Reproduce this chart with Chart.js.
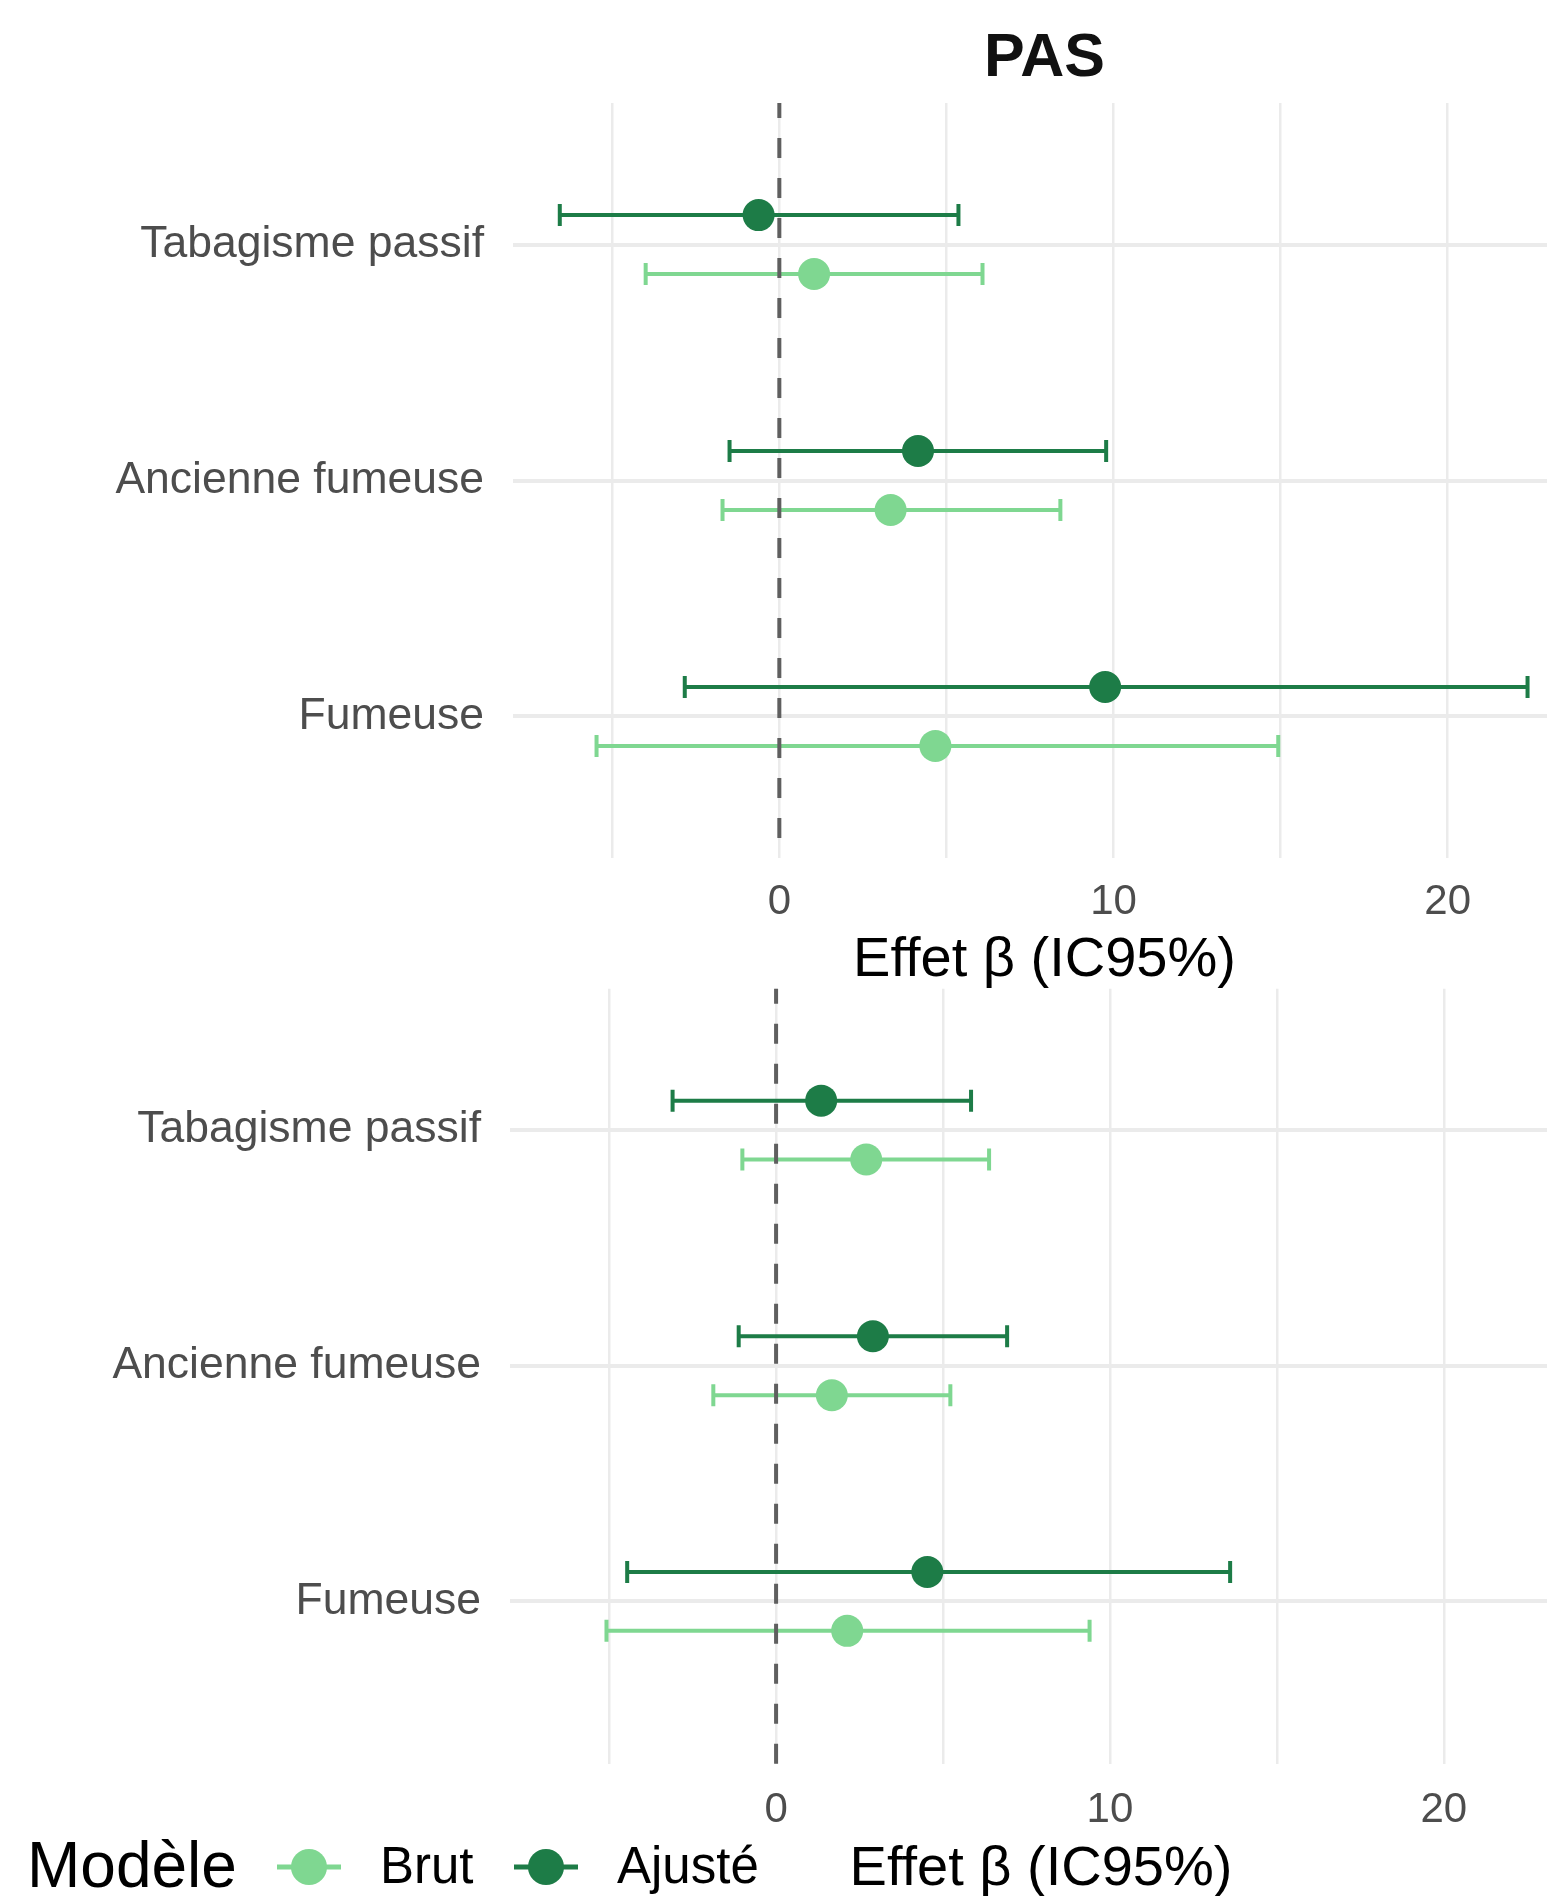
<!DOCTYPE html>
<html>
<head>
<meta charset="utf-8">
<script src="https://cdn.jsdelivr.net/npm/chart.js@4"></script>
<style>
  html, body { margin: 0; padding: 0; background: #fff; }
  body { width: 1547px; height: 1896px; overflow: hidden; position: relative; }
  canvas { position: absolute; left: 0; }
  #pasTop { top: 0; width: 1576px; height: 1000px; }
  #pasBottom { top: 962px; width: 1572px; height: 947px; }
</style>
</head>
<body>
<canvas id="pasTop" width="1576" height="1000"></canvas>
<canvas id="pasBottom" width="1572" height="947"></canvas>
<script>
// categories, from bottom (y=1) to top (y=3)
const categories = ['Fumeuse', 'Ancienne fumeuse', 'Tabagisme passif'];
const xTicks = [-5, 0, 5, 10, 15, 20];
const xLabels = [0, 10, 20];

// panneau du haut
const brutTop = [4.67, 3.33, 1.04];
const brutTopLow = [-5.47, -1.70, -4.00];
const brutTopHigh = [14.93, 8.41, 6.08];
const ajusteTop = [9.75, 4.15, -0.62];
const ajusteTopLow = [-2.83, -1.49, -6.57];
const ajusteTopHigh = [22.39, 9.78, 5.36];

// panneau du bas
const brutBot = [2.13, 1.67, 2.70];
const brutBotLow = [-5.08, -1.88, -1.01];
const brutBotHigh = [9.39, 5.22, 6.38];
const ajusteBot = [4.53, 2.90, 1.35];
const ajusteBotLow = [-4.46, -1.12, -3.10];
const ajusteBotHigh = [13.60, 6.92, 5.84];

const colBrut = '#7fd791';
const colAjuste = '#1d7c47';
const FONT = "'Liberation Sans', Arial, Helvetica, sans-serif";
const DODGE = 0.125;

// barres d'erreur + ligne pointillée à 0
const forestPlugin = {
  id: 'forest',
  beforeDatasetsDraw(chart) {
    const ctx = chart.ctx;
    const xs = chart.scales.x, ys = chart.scales.y;
    ctx.save();
    chart.data.datasets.forEach(ds => {
      ctx.strokeStyle = ds.backgroundColor;
      ctx.lineWidth = 4;
      ds.data.forEach((p, i) => {
        const y = ys.getPixelForValue(p.y);
        const x1 = xs.getPixelForValue(ds.errLow[i]);
        const x2 = xs.getPixelForValue(ds.errHigh[i]);
        ctx.beginPath();
        ctx.moveTo(x1, y); ctx.lineTo(x2, y);
        ctx.moveTo(x1, y - 11); ctx.lineTo(x1, y + 11);
        ctx.moveTo(x2, y - 11); ctx.lineTo(x2, y + 11);
        ctx.stroke();
      });
    });
    ctx.restore();
  },
  afterDatasetsDraw(chart) {
    const ctx = chart.ctx;
    const a = chart.chartArea;
    const x0 = chart.scales.x.getPixelForValue(0);
    ctx.save();
    ctx.strokeStyle = '#5f5f5f';
    ctx.lineWidth = 4;
    ctx.setLineDash([20, 20]);
    ctx.lineDashOffset = 5;
    ctx.beginPath();
    ctx.moveTo(x0, a.top); ctx.lineTo(x0, a.bottom);
    ctx.stroke();
    ctx.restore();
  }
};

// légende en ligne : Modèle ● Brut ● Ajusté
const legendPlugin = {
  id: 'inlineLegend',
  afterDraw(chart, args, opts) {
    const ctx = chart.ctx;
    const y = opts.y;
    ctx.save();
    ctx.textBaseline = 'middle';
    ctx.fillStyle = '#000';
    ctx.font = '64px ' + FONT;
    ctx.fillText('Modèle', 27, y + 2);
    const keys = [309, 546];
    const texts = [380, 617];
    chart.data.datasets.forEach((ds, i) => {
      ctx.strokeStyle = ds.backgroundColor;
      ctx.fillStyle = ds.backgroundColor;
      ctx.lineWidth = 5;
      ctx.beginPath();
      ctx.moveTo(keys[i] - 32, y); ctx.lineTo(keys[i] + 32, y);
      ctx.stroke();
      ctx.beginPath();
      ctx.arc(keys[i], y, 18, 0, Math.PI * 2);
      ctx.fill();
      ctx.fillStyle = '#000';
      ctx.font = '51px ' + FONT;
      ctx.fillText(ds.label, texts[i], y + 2);
    });
    ctx.restore();
  }
};

function makePanel(id, d, opt) {
  const brutPts = d.brut.map((v, i) => ({ x: v, y: i + 1 - DODGE }));
  const ajPts = d.ajuste.map((v, i) => ({ x: v, y: i + 1 + DODGE }));
  return new Chart(document.getElementById(id), {
    type: 'scatter',
    data: {
      datasets: [
        { label: 'Brut', data: brutPts, errLow: d.brutLow, errHigh: d.brutHigh,
          backgroundColor: colBrut, borderWidth: 0, pointRadius: 16, pointHoverRadius: 16 },
        { label: 'Ajusté', data: ajPts, errLow: d.ajusteLow, errHigh: d.ajusteHigh,
          backgroundColor: colAjuste, borderWidth: 0, pointRadius: 16, pointHoverRadius: 16 }
      ]
    },
    options: {
      responsive: false,
      animation: false,
      events: [],
      layout: { padding: 0, autoPadding: false },
      plugins: {
        legend: { display: false },
        tooltip: { enabled: false },
        inlineLegend: { y: opt.legendY },
        title: {
          display: !!opt.title,
          text: opt.title || '',
          fullSize: false,
          color: '#111',
          font: { family: FONT, size: 61, weight: 'bold' },
          padding: { top: 22.6, bottom: 7.2 }
        }
      },
      scales: {
        x: {
          type: 'linear',
          min: -7.97,
          max: 23.84,
          afterBuildTicks: s => { s.ticks = xTicks.map(v => ({ value: v })); },
          afterFit: s => { s.height = opt.xHeight; },
          border: { display: false },
          grid: { color: '#ebebeb', lineWidth: 2.5, drawTicks: true,
                  tickLength: opt.xTickLen, tickColor: 'rgba(0,0,0,0)' },
          ticks: {
            padding: 0,
            color: '#4d4d4d',
            font: { family: FONT, size: 42 },
            maxRotation: 0,
            autoSkip: false,
            callback: v => xLabels.includes(v) ? String(v) : ''
          },
          title: {
            display: true,
            text: 'Effet β (IC95%)',
            color: '#000',
            font: { family: FONT, size: 56 },
            padding: { top: 0, bottom: 6 }
          }
        },
        y: {
          type: 'linear',
          min: opt.yMin,
          max: 3.6,
          afterBuildTicks: s => { s.ticks = categories.map((c, i) => ({ value: i + 1 })); },
          afterFit: s => { s.width = opt.yWidth; },
          border: { display: false },
          grid: { color: '#ebebeb', lineWidth: 4, drawTicks: true,
                  tickLength: 29, tickColor: 'rgba(0,0,0,0)' },
          ticks: {
            padding: 0,
            color: '#4d4d4d',
            font: { family: FONT, size: 44.5 },
            autoSkip: false,
            callback: v => categories[v - 1]
          }
        }
      }
    },
    plugins: opt.legend ? [forestPlugin, legendPlugin] : [forestPlugin]
  });
}

makePanel('pasTop', {
  brut: brutTop, brutLow: brutTopLow, brutHigh: brutTopHigh,
  ajuste: ajusteTop, ajusteLow: ajusteTopLow, ajusteHigh: ajusteTopHigh
}, { title: 'PAS', yWidth: 513, xHeight: 142, xTickLen: 19.4, yMin: 0.4, legend: false });

makePanel('pasBottom', {
  brut: brutBot, brutLow: brutBotLow, brutHigh: brutBotHigh,
  ajuste: ajusteBot, ajusteLow: ajusteBotLow, ajusteHigh: ajusteBotHigh
}, { title: '', yWidth: 510, xHeight: 145, xTickLen: 20.8, yMin: 0.31, legend: true, legendY: 1867 - 962 });
</script>
</body>
</html>
